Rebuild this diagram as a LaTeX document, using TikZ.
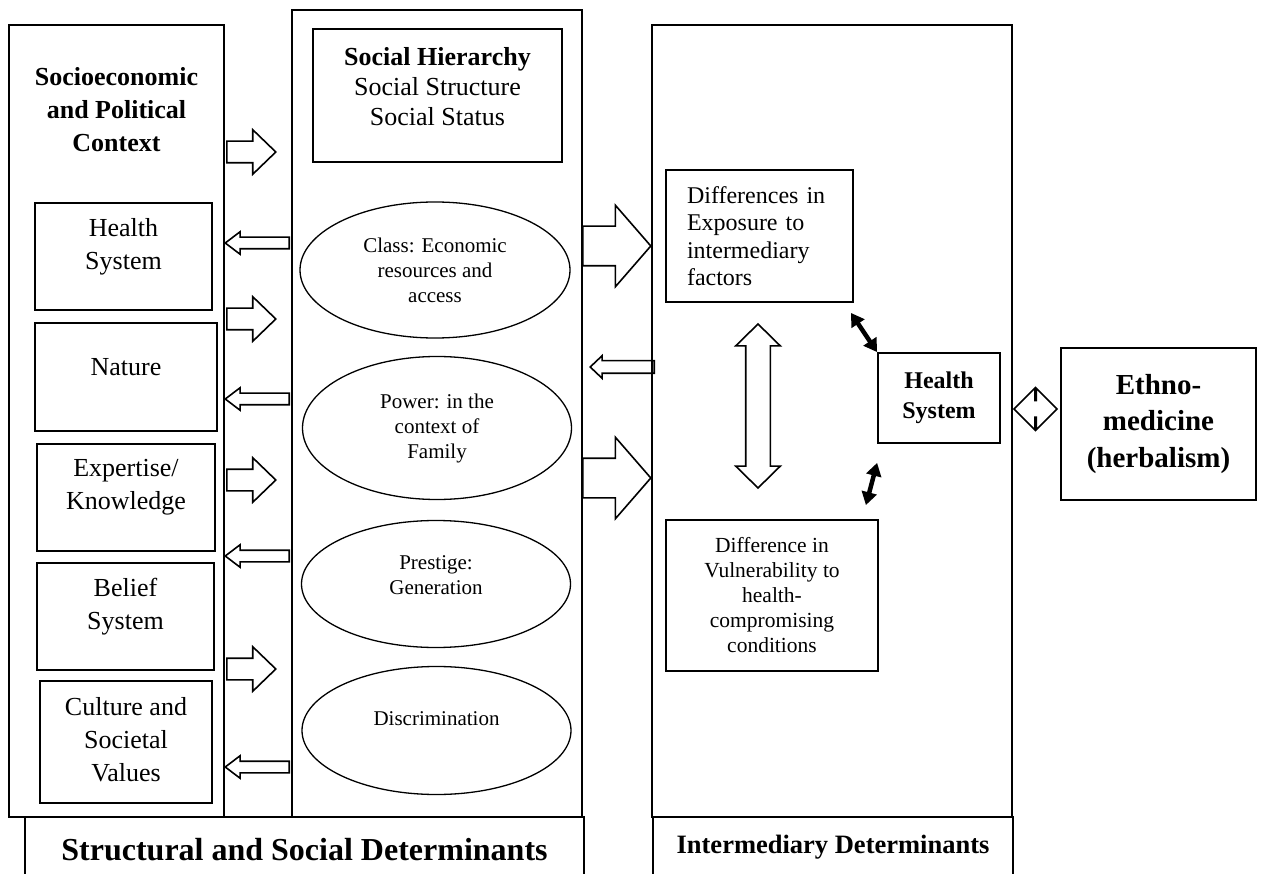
\documentclass[tikz,border=0pt]{standalone}
\usepackage{fontspec}
\setmainfont{Liberation Serif}
\usetikzlibrary{shapes.geometric,shapes.arrows,arrows.meta}

\tikzset{
  frame/.style={draw, line width=1.8pt, inner sep=0pt},
  lbox/.style={draw, line width=1.8pt, inner sep=0pt},
  ltxt/.style={align=center, font=\fontsize{26}{33}\selectfont},
  oval/.style={ellipse, draw, line width=1.3pt, inner sep=0pt, align=center, font=\fontsize{21}{25}\selectfont},
  otxt/.style={align=center, font=\fontsize{21}{25}\selectfont},
  rblock/.style={single arrow, draw, line width=1.6pt, inner xsep=0pt, inner ysep=10pt, minimum height=49,
    single arrow head extend=11.5, single arrow tip angle=88, anchor=tail},
  lblock/.style={single arrow, draw, line width=1.6pt, inner xsep=0pt, inner ysep=5pt, minimum height=64,
    single arrow head extend=5.5, single arrow tip angle=74, shape border rotate=180, anchor=tail},
  bigblock/.style={single arrow, draw, line width=1.6pt, inner xsep=0pt, inner ysep=19pt, minimum height=68,
    single arrow head extend=21, single arrow tip angle=98, anchor=tail},
  dblock/.style={double arrow, draw, line width=1.6pt, inner xsep=0pt},
  blk/.style={{Triangle[length=13pt,width=15pt]}-{Triangle[length=13pt,width=15pt]}, line width=4.5pt}
}

\begin{document}
\begin{tikzpicture}[x=1pt,y=-1pt]
\clip (0,0) rectangle (1261,874);

% structural side
\node[frame, minimum width=215, minimum height=792] (ctx) at (116.5,421) {};
\node[align=center, font=\fontsize{26}{33}\selectfont\bfseries] (ctxhead) at (116.5,110) {Socioeconomic\\and Political\\Context};

\node[lbox, minimum width=177, minimum height=107] (hs) at (123.5,256.5) {};
\node[ltxt] (hstxt) at (123.5,247) {Health\\System};
\node[lbox, minimum width=182, minimum height=108] (nat) at (126,377) {};
\node[ltxt] (nattxt) at (126,367) {Nature};
\node[lbox, minimum width=178, minimum height=107] (exp) at (126,497.5) {};
\node[ltxt] (exptxt) at (126,487.5) {Expertise/\\Knowledge};
\node[lbox, minimum width=177, minimum height=107] (bel) at (125.5,616.5) {};
\node[ltxt] (beltxt) at (125.5,606.5) {Belief\\System};
\node[lbox, minimum width=172, minimum height=122] (cul) at (126,742) {};
\node[ltxt] (cultxt) at (126,740) {Culture and\\Societal\\Values};

\node[frame, minimum width=290, minimum height=807] (mid) at (437,413.5) {};
\node[lbox, minimum width=249, minimum height=133] (hier) at (437.5,95.5) {};
\node[align=center, font=\fontsize{26}{30}\selectfont] (hiertxt) at (437.5,87) {\textbf{Social Hierarchy}\\Social Structure\\Social Status};

\node[oval, minimum width=270, minimum height=136] (cls) at (435,270) {Class: Economic\\resources and\\access};
\node[oval, minimum width=269, minimum height=143] (pow) at (437,428) {Power: in the\\context of\\Family};
\node[oval, minimum width=269, minimum height=127] (pre) at (436,584) {};
\node[otxt] (pretxt) at (436,575.5) {Prestige:\\Generation};
\node[oval, minimum width=269, minimum height=128] (dis) at (436.5,730.5) {};
\node[otxt] (distxt) at (436.5,719) {Discrimination};

% arrows between context and hierarchy
\foreach \y in {152,319,480,669}
  \node[rblock] (r\y) at (226,\y) {};
\foreach \y in {243,399,556,767}
  \node[lblock] (l\y) at (290,\y) {};

% intermediary side
\node[frame, minimum width=360, minimum height=792] (inter) at (832,421) {};
\node[lbox, text width=145, inner xsep=21, align=left, minimum height=132, font=\fontsize{24}{27.5}\selectfont] (diff) at (759.5,236) {Differences in\\Exposure to\\intermediary\\factors};
\node[lbox, minimum width=212, minimum height=151, align=center, font=\fontsize{21.5}{25}\selectfont] (vul) at (772,595.5) {Difference in\\Vulnerability to\\health-\\compromising\\conditions};
\node[lbox, minimum width=122, minimum height=90, align=center, font=\fontsize{24}{30}\selectfont\bfseries] (hsys) at (939,398) {Health\\System};
\node[lbox, minimum width=195, minimum height=152, align=center, font=\fontsize{29}{36.5}\selectfont\bfseries] (eth) at (1158.5,424) {Ethno-\\medicine\\(herbalism)};

\foreach \y in {246,478}
  \node[bigblock] (b\y) at (582,\y) {};
\node[lblock, inner ysep=5.5pt, single arrow head extend=5, single arrow tip angle=87] (back) at (655,367) {};
\node[dblock, inner ysep=11.5pt, minimum height=164, double arrow head extend=10, double arrow tip angle=91, rotate=90] (link) at (758,406) {};
\node[dblock, inner ysep=7.5pt, minimum height=43, double arrow head extend=12.5, double arrow tip angle=90] (ethlink) at (1035.5,409) {};

\draw[blk] ([xshift=-3pt,yshift=-10pt]diff.south east) -- (hsys.north west);
\draw[blk] ([yshift=-19pt]hsys.south west) -- ([xshift=-13pt,yshift=14pt]vul.north east);

% titles at the bottom
\node[frame, minimum width=559, minimum height=66, font=\fontsize{32}{36}\selectfont\bfseries] (sdet) at (304.5,850) {Structural and Social Determinants};
\node[frame, minimum width=360, minimum height=60, font=\fontsize{26.5}{30}\selectfont\bfseries] (idet) at (833,847) {Intermediary Determinants};
\end{tikzpicture}
\end{document}
